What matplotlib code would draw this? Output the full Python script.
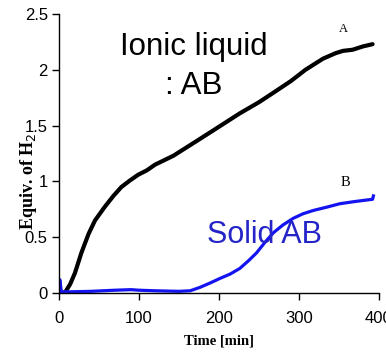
import matplotlib
matplotlib.use("Agg")
import matplotlib.pyplot as plt
from matplotlib import font_manager

# Data
time_a = [0, 5, 8, 14, 20, 28, 37, 45, 57, 68, 78, 89, 99, 110, 120, 143, 176, 200, 226, 250, 267, 290, 308, 330, 346, 355, 367, 380, 392]
equiv_a = [0, 0.0, 0.01, 0.08, 0.18, 0.36, 0.53, 0.65, 0.77, 0.87, 0.95, 1.01, 1.06, 1.10, 1.15, 1.23, 1.38, 1.49, 1.61, 1.71, 1.79, 1.90, 2.00, 2.10, 2.15, 2.17, 2.18, 2.21, 2.23]
time_b = [0, 1, 3, 10, 40, 70, 90, 100, 120, 150, 164, 176, 189, 201, 214, 226, 237, 247, 257, 268, 280, 293, 305, 318, 335, 351, 370, 392, 393]
equiv_b = [0.02, 0.12, 0.01, 0.01, 0.015, 0.025, 0.03, 0.025, 0.02, 0.015, 0.02, 0.05, 0.09, 0.13, 0.17, 0.22, 0.29, 0.36, 0.45, 0.54, 0.61, 0.67, 0.71, 0.74, 0.77, 0.80, 0.82, 0.84, 0.87]
xticks = [0, 100, 200, 300, 400]
yticks = [0, 0.5, 1, 1.5, 2, 2.5]
ytick_labels = ["0", "0.5", "1", "1.5", "2", "2.5"]

names = {f.name for f in font_manager.fontManager.ttflist}
narrow = "Liberation Sans Narrow" if "Liberation Sans Narrow" in names else "Liberation Sans"

fig = plt.figure(figsize=(3.86, 3.54), dpi=100)
ax = fig.add_axes([0.1528, 0.1723, 0.829, 0.788])

ax.plot(time_a, equiv_a, color="black", lw=3.0, solid_capstyle="round")
ax.plot(time_b, equiv_b, color="#1414f0", lw=2.3)

ax.set_xlim(0, 400)
ax.set_ylim(0, 2.5)
ax.set_xticks(xticks)
ax.set_yticks(yticks)
ax.set_yticklabels(ytick_labels)
for lab in ax.get_xticklabels() + ax.get_yticklabels():
    lab.set_fontfamily(narrow)
    lab.set_fontsize(12)
ax.tick_params(direction="out", length=5, width=1, color="black")
ax.tick_params(axis="x", pad=8)
ax.tick_params(axis="y", pad=3)
for s in ["top", "right"]:
    ax.spines[s].set_visible(False)
for s in ["left", "bottom"]:
    ax.spines[s].set_linewidth(1)

ax.set_xlabel("Time [min]", family="Liberation Serif", fontweight="bold", fontsize=10.5, labelpad=6)
ax.set_ylabel("Equiv. of H$_2$", family="Liberation Serif", fontweight="bold", fontsize=13)
ax.yaxis.set_label_coords(-0.063, 0.40)

ax.text(169, 2.03, "Ionic liquid\n: AB", ha="center", va="center", fontsize=22.5,
        family="Liberation Sans", linespacing=1.4)
ax.text(257, 0.52, "Solid AB", ha="center", va="center", fontsize=22,
        family="Liberation Sans", color="#2424c8")
ax.text(355, 2.37, "A", ha="center", va="center", fontsize=9, family="Liberation Serif")
ax.text(358, 0.99, "B", ha="center", va="center", fontsize=10.5, family="Liberation Serif")

fig.savefig("out.png", dpi=100)
